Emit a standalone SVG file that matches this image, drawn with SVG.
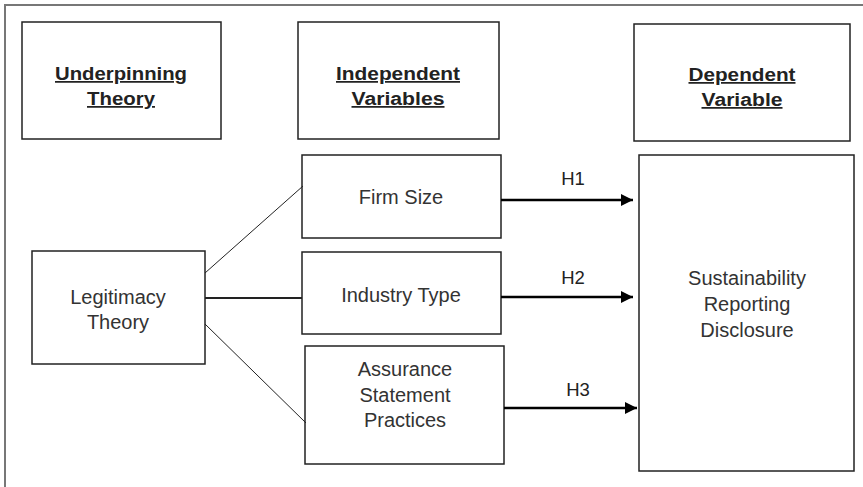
<svg xmlns="http://www.w3.org/2000/svg" width="863" height="487" viewBox="0 0 863 487">
<style>
.box{fill:#fff;stroke:#222;stroke-width:1.5}
.hd{font-family:"Liberation Sans",Arial,sans-serif;font-weight:bold;font-size:17.5px;fill:#222;text-anchor:middle;text-decoration:underline}
.t{font-family:"Liberation Sans",Arial,sans-serif;font-size:20px;fill:#333;text-anchor:middle}
.h{font-family:"Liberation Sans",Arial,sans-serif;font-size:18.5px;fill:#222;text-anchor:middle}
.arr{stroke:#000;stroke-width:2.5;fill:none;marker-end:url(#ah)}
.ln{stroke:#222;fill:none}
</style>
<defs>
<marker id="ah" markerUnits="userSpaceOnUse" markerWidth="14" markerHeight="14" refX="12" refY="6" orient="auto">
<path d="M0,0 L12,6 L0,12 Z" fill="#000"/>
</marker>
</defs>
<rect width="863" height="487" fill="#fff"/>
<path d="M5,487 V5 H863" fill="none" stroke="#777" stroke-width="2"/>
<g id="underpinning">
<rect class="box" x="22" y="22" width="199" height="117"/>
<text class="hd" x="121" y="80" textLength="132" lengthAdjust="spacingAndGlyphs">Underpinning</text>
<text class="hd" x="121" y="105" textLength="68" lengthAdjust="spacingAndGlyphs">Theory</text>
</g>
<g id="independent">
<rect class="box" x="298" y="22" width="201" height="117"/>
<text class="hd" x="398" y="80" textLength="124" lengthAdjust="spacingAndGlyphs">Independent</text>
<text class="hd" x="398" y="105" textLength="93" lengthAdjust="spacingAndGlyphs">Variables</text>
</g>
<g id="dependent">
<rect class="box" x="634" y="24" width="216" height="117"/>
<text class="hd" x="742" y="81" textLength="107" lengthAdjust="spacingAndGlyphs">Dependent</text>
<text class="hd" x="742" y="106" textLength="81" lengthAdjust="spacingAndGlyphs">Variable</text>
</g>
<g id="legitimacy">
<rect class="box" x="32" y="251" width="173" height="113"/>
<text class="t" x="118" y="304">Legitimacy</text>
<text class="t" x="118" y="329">Theory</text>
</g>
<g id="firmsize">
<rect class="box" x="302" y="155" width="199" height="83"/>
<text class="t" x="401" y="204">Firm Size</text>
</g>
<g id="industry">
<rect class="box" x="302" y="252" width="199" height="82"/>
<text class="t" x="401" y="302">Industry Type</text>
</g>
<g id="assurance">
<rect class="box" x="305" y="346" width="199" height="118"/>
<text class="t" x="405" y="376">Assurance</text>
<text class="t" x="405" y="402">Statement</text>
<text class="t" x="405" y="427">Practices</text>
</g>
<g id="srd">
<rect class="box" x="639" y="155" width="215" height="316"/>
<text class="t" x="747" y="285">Sustainability</text>
<text class="t" x="747" y="311">Reporting</text>
<text class="t" x="747" y="337">Disclosure</text>
</g>
<g id="connectors">
<line class="ln" x1="205" y1="273" x2="303" y2="186" stroke-width="1"/>
<line class="ln" x1="205" y1="298" x2="302" y2="298" stroke-width="2"/>
<line class="ln" x1="205" y1="324" x2="306" y2="423" stroke-width="1"/>
<line class="arr" x1="501" y1="200" x2="633" y2="200"/>
<line class="arr" x1="501" y1="297" x2="633" y2="297"/>
<line class="arr" x1="504" y1="408" x2="637" y2="408"/>
<text class="h" x="573" y="185">H1</text>
<text class="h" x="573" y="284">H2</text>
<text class="h" x="578" y="396">H3</text>
</g>
</svg>
